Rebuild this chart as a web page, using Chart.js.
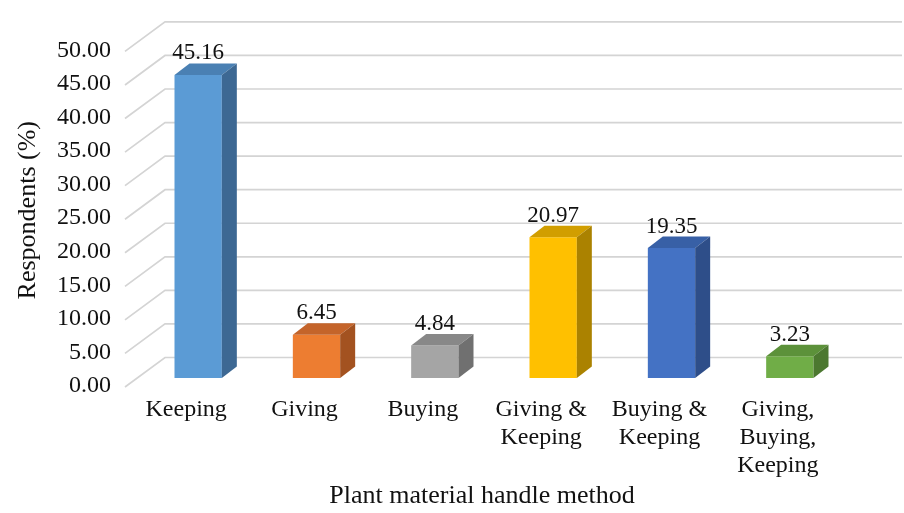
<!DOCTYPE html>
<html>
<head>
<meta charset="utf-8">
<script src="https://cdn.jsdelivr.net/npm/chart.js@4/dist/chart.umd.min.js"></script>
<style>
  html, body { margin: 0; padding: 0; background: #ffffff; }
  canvas { display: block; }
</style>
</head>
<body>
<canvas id="chart" width="904" height="513"></canvas>
<script>
// Plant material handling: share of respondents per method
const categories = [
  ['Keeping'],
  ['Giving'],
  ['Buying'],
  ['Giving &', 'Keeping'],
  ['Buying &', 'Keeping'],
  ['Giving,', 'Buying,', 'Keeping']
];
const respondents = [45.16, 6.45, 4.84, 20.97, 19.35, 3.23];
const yTickValues = [0, 5, 10, 15, 20, 25, 30, 35, 40, 45, 50];
const yAxisTitle = 'Respondents (%)';
const xAxisTitle = 'Plant material handle method';

// face colours: front, top, side
const frontColors = ['#5B9BD5', '#ED7D31', '#A5A5A5', '#FFC000', '#4472C4', '#70AD47'];
const topColors   = ['#4A80B3', '#C4642A', '#888888', '#D19E00', '#3860A6', '#5C913A'];
const sideColors  = ['#3D6893', '#A35220', '#707070', '#AB8200', '#2E4E89', '#4C7830'];

const SERIF = '"Liberation Serif", "Times New Roman", serif';
const DEPTH = { dx: 15, dy: -11.5 };          // bar depth
const FLOOR_FRONT = { dx: -14, dy: 9 };       // front edge of the floor/wall
const WALL_BACK = { dx: 26, dy: -20.5 };      // back wall plane
const GRID_COLOR = '#D4D4D4';

// gridlines of the 3D walls: diagonal on the side wall, horizontal on the back wall
const wallGrid = {
  id: 'wallGrid',
  beforeDatasetsDraw(chart) {
    const { ctx, chartArea, scales: { y } } = chart;
    ctx.save();
    ctx.strokeStyle = GRID_COLOR;
    ctx.lineWidth = 1.7;
    const fx = chartArea.left + FLOOR_FRONT.dx;
    const bx = chartArea.left + WALL_BACK.dx;
    const rx = chart.width - 2;
    yTickValues.forEach(v => {
      const py = y.getPixelForValue(v);
      ctx.beginPath();
      ctx.moveTo(fx, py + FLOOR_FRONT.dy);
      ctx.lineTo(bx, py + WALL_BACK.dy);
      ctx.lineTo(rx, py + WALL_BACK.dy);
      ctx.stroke();
    });
    ctx.restore();
  }
};

// top and side faces of each bar, plus value labels
const bars3d = {
  id: 'bars3d',
  afterDatasetsDraw(chart) {
    const { ctx } = chart;
    const meta = chart.getDatasetMeta(0);
    ctx.save();
    meta.data.forEach((bar, i) => {
      const { x, y, base, width } = bar.getProps(['x', 'y', 'base', 'width'], true);
      const L = x - width / 2, R = x + width / 2;
      // top
      ctx.fillStyle = topColors[i];
      ctx.beginPath();
      ctx.moveTo(L, y);
      ctx.lineTo(L + DEPTH.dx, y + DEPTH.dy);
      ctx.lineTo(R + DEPTH.dx, y + DEPTH.dy);
      ctx.lineTo(R, y);
      ctx.closePath();
      ctx.fill();
      // side
      ctx.fillStyle = sideColors[i];
      ctx.beginPath();
      ctx.moveTo(R, y);
      ctx.lineTo(R + DEPTH.dx, y + DEPTH.dy);
      ctx.lineTo(R + DEPTH.dx, base + DEPTH.dy);
      ctx.lineTo(R, base);
      ctx.closePath();
      ctx.fill();
      // value label
      ctx.fillStyle = '#111111';
      ctx.font = '23px ' + SERIF;
      ctx.textAlign = 'center';
      ctx.textBaseline = 'alphabetic';
      ctx.fillText(respondents[i].toFixed(2), x, y + DEPTH.dy - 4);
    });
    ctx.restore();
  }
};

// horizontal axis title
const xTitle = {
  id: 'xTitle',
  afterDraw(chart) {
    const { ctx, chartArea } = chart;
    ctx.save();
    ctx.fillStyle = '#111111';
    ctx.font = '26px ' + SERIF;
    ctx.textAlign = 'center';
    ctx.textBaseline = 'alphabetic';
    ctx.fillText(xAxisTitle, (chartArea.left + chartArea.right) / 2 - 12, chart.height - 10);
    ctx.restore();
  }
};

new Chart(document.getElementById('chart'), {
  type: 'bar',
  data: {
    labels: categories,
    datasets: [{
      data: respondents,
      backgroundColor: frontColors,
      borderWidth: 0,
      categoryPercentage: 1.0,
      barPercentage: 0.4
    }]
  },
  options: {
    responsive: false,
    animation: false,
    devicePixelRatio: 1,
    layout: { padding: { left: 0, right: 55, top: 34, bottom: 0 } },
    plugins: {
      legend: { display: false },
      tooltip: { enabled: false }
    },
    scales: {
      x: {
        grid: { display: false, drawTicks: false },
        border: { display: false },
        ticks: {
          color: '#111111',
          font: { family: SERIF, size: 24, lineHeight: 1.16 },
          padding: 18,
          labelOffset: -12,
          maxRotation: 0,
          autoSkip: false
        },
        afterFit(scale) { scale.height = 135; }
      },
      y: {
        min: 0,
        max: 50,
        afterBuildTicks(scale) { scale.ticks = yTickValues.map(v => ({ value: v })); },
        grid: { display: false, drawTicks: false },
        border: { display: false },
        ticks: {
          color: '#111111',
          font: { family: SERIF, size: 24 },
          padding: 28,
          labelOffset: 8,
          callback: v => Number(v).toFixed(2)
        },
        title: {
          display: true,
          text: yAxisTitle,
          color: '#111111',
          font: { family: SERIF, size: 26 },
          padding: { top: 13, bottom: 0 }
        },
        afterFit(scale) { scale.width = 139; }
      }
    }
  },
  plugins: [wallGrid, bars3d, xTitle]
});
</script>
</body>
</html>
